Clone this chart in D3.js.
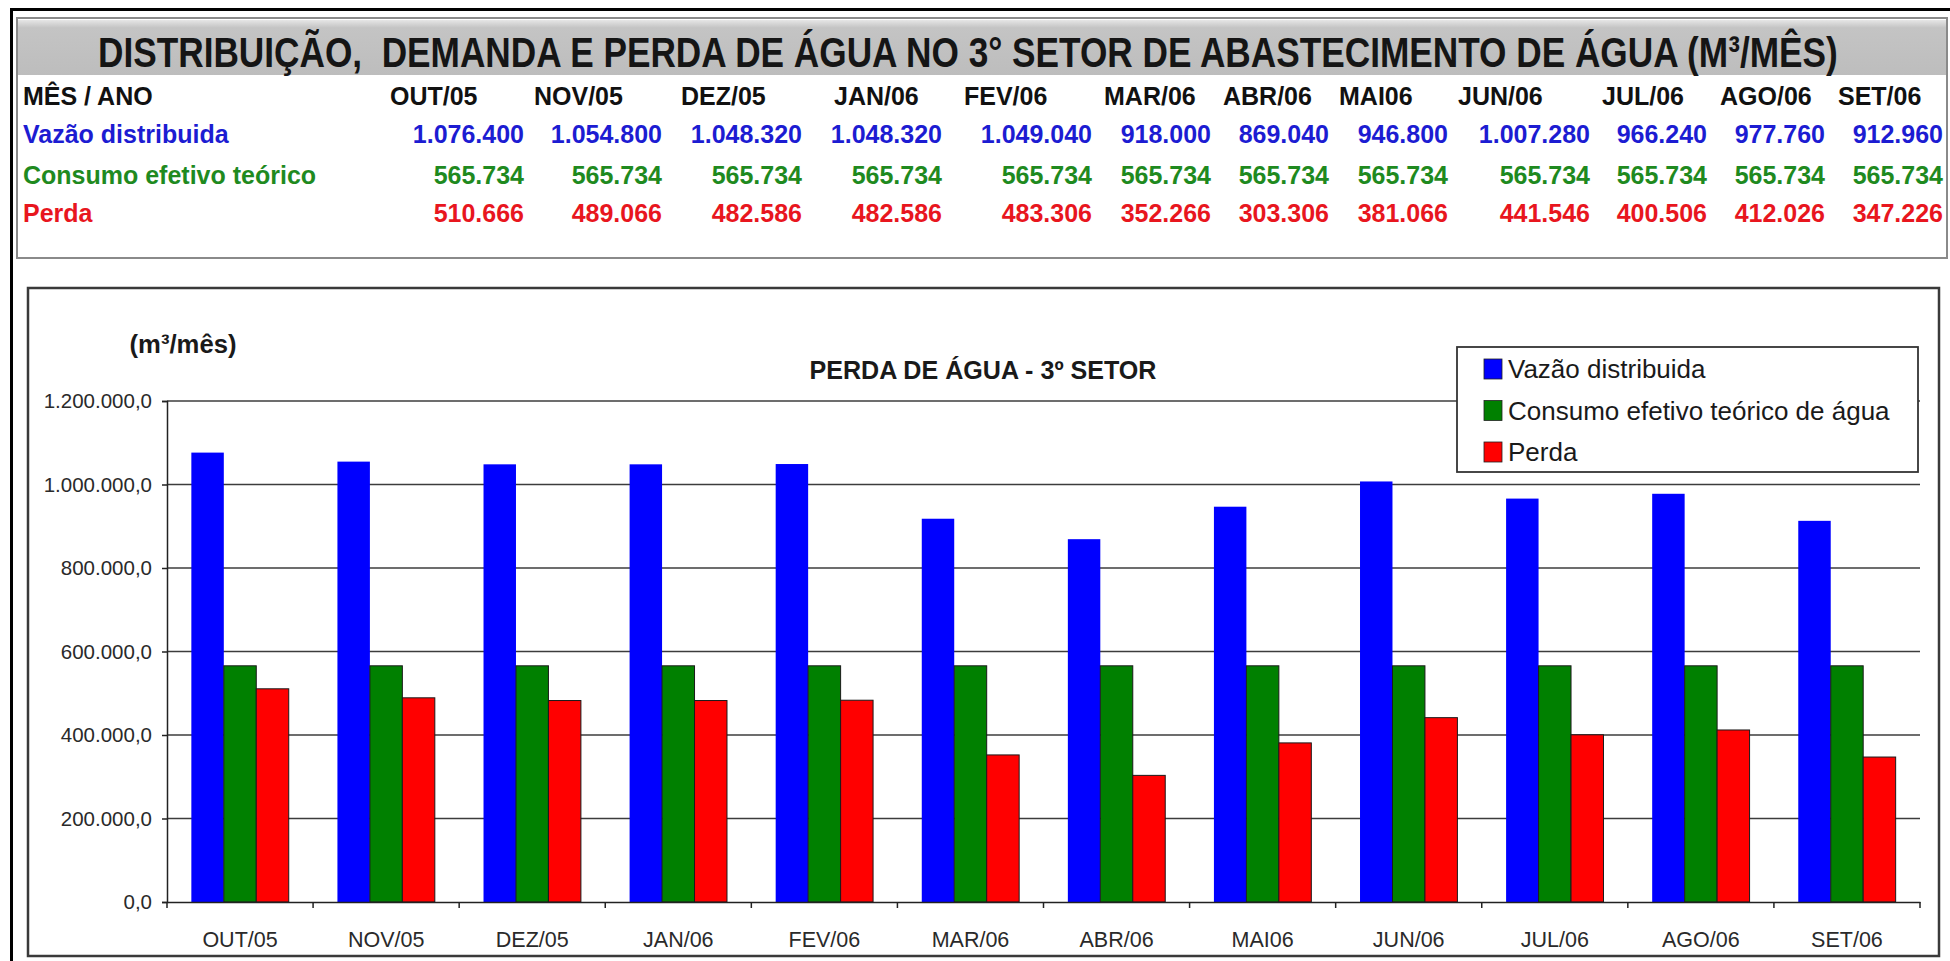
<!DOCTYPE html>
<html>
<head>
<meta charset="utf-8">
<script src="https://cdn.jsdelivr.net/npm/d3@7"></script>
<style>
  html, body { margin: 0; padding: 0; background: #fff; }
  svg { display: block; }
</style>
</head>
<body>
<svg id="chart" width="1950" height="961"></svg>
<script>
// ---- data ----
const months = ["OUT/05", "NOV/05", "DEZ/05", "JAN/06", "FEV/06", "MAR/06", "ABR/06", "MAI06", "JUN/06", "JUL/06", "AGO/06", "SET/06"];
const vazao   = [1076400, 1054800, 1048320, 1048320, 1049040, 918000, 869040, 946800, 1007280, 966240, 977760, 912960];
const consumo = [565734, 565734, 565734, 565734, 565734, 565734, 565734, 565734, 565734, 565734, 565734, 565734];
const perda   = [510666, 489066, 482586, 482586, 483306, 352266, 303306, 381066, 441546, 400506, 412026, 347226];
const legendNames = ["Vazão distribuida", "Consumo efetivo teórico de água", "Perda"];
const tableRowNames = ["Vazão distribuida", "Consumo efetivo teórico", "Perda"];
const yTickValues = [0, 200000, 400000, 600000, 800000, 1000000, 1200000];

// ---- styling / layout ----
const seriesColors = ["#0000ff", "#008000", "#ff0000"];
const tableTextColors = ["#1c1cd2", "#1f8a1f", "#e8161e"];
const tableColRight = [524, 662, 802, 942, 1092, 1211, 1329, 1448, 1590, 1707, 1825, 1943];
const tableHeadLeft = [390, 534, 681, 834, 964, 1104, 1223, 1339, 1458, 1602, 1720, 1838];

const ptBR = d3.formatLocale({decimal: ",", thousands: ".", grouping: [3], currency: ["R$", ""]});
const fmtInt = ptBR.format(",d");
const fmtTick = ptBR.format(",.1f");

const svg = d3.select("#chart");
const FONT = "'Liberation Sans', Arial, Helvetica, sans-serif";
const NARROW = "'Liberation Sans Narrow', 'Liberation Sans', Arial, sans-serif";

const defs = svg.append("defs");
const grad = defs.append("linearGradient").attr("id", "band").attr("x1", 0).attr("y1", 0).attr("x2", 0).attr("y2", 1);
grad.append("stop").attr("offset", "0%").attr("stop-color", "#e6e6e6");
grad.append("stop").attr("offset", "14%").attr("stop-color", "#c4c4c4");
grad.append("stop").attr("offset", "100%").attr("stop-color", "#bdbdbd");

// page frame
svg.append("rect").attr("x", 11.5).attr("y", 9.5).attr("width", 1960).attr("height", 980)
  .attr("fill", "none").attr("stroke", "#000").attr("stroke-width", 3);

// ---- data table ----
const table = svg.append("g");
table.append("rect").attr("x", 17).attr("y", 18).attr("width", 1930).attr("height", 240)
  .attr("fill", "#fff").attr("stroke", "#8a8a8a").attr("stroke-width", 2);
table.append("rect").attr("x", 18).attr("y", 20).attr("width", 1928).attr("height", 55)
  .attr("fill", "url(#band)");

// heading: condensed horizontally so it spans the band
const heading = table.append("text")
  .attr("x", 0).attr("y", 0)
  .style("white-space", "pre")
  .attr("font-family", NARROW).attr("font-size", 43).attr("font-weight", "bold").attr("fill", "#151515")
  .text("DISTRIBUIÇÃO,  DEMANDA E PERDA DE ÁGUA NO 3° SETOR DE ABASTECIMENTO DE ÁGUA (M³/MÊS)");
const headingWidth = 1740;
const naturalWidth = heading.node().getComputedTextLength();
heading.attr("transform", `translate(98,67) scale(${headingWidth / naturalWidth},1)`);

const rowBase = [105, 143, 184, 222];
table.append("text").attr("x", 23).attr("y", rowBase[0])
  .attr("font-family", FONT).attr("font-size", 25).attr("font-weight", "bold").attr("fill", "#111")
  .text("MÊS / ANO");
table.selectAll("text.head").data(months).join("text").attr("class", "head")
  .attr("x", (d, i) => tableHeadLeft[i]).attr("y", rowBase[0])
  .attr("font-family", FONT).attr("font-size", 25).attr("font-weight", "bold").attr("fill", "#111")
  .text(d => d);

const tableSeries = [vazao, consumo, perda];
tableSeries.forEach((vals, r) => {
  table.append("text").attr("x", 23).attr("y", rowBase[r + 1])
    .attr("font-family", FONT).attr("font-size", 25).attr("font-weight", "bold")
    .attr("fill", tableTextColors[r]).text(tableRowNames[r]);
  table.selectAll("text.v" + r).data(vals).join("text").attr("class", "v" + r)
    .attr("x", (d, i) => tableColRight[i]).attr("y", rowBase[r + 1])
    .attr("text-anchor", "end")
    .attr("font-family", FONT).attr("font-size", 25).attr("font-weight", "bold")
    .attr("fill", tableTextColors[r]).text(d => fmtInt(d));
});

// ---- chart box ----
svg.append("rect").attr("x", 28).attr("y", 288).attr("width", 1911).attr("height", 668)
  .attr("fill", "#fff").attr("stroke", "#3a3a3a").attr("stroke-width", 2.5);

const plot = {left: 167, right: 1920, top: 401, bottom: 902};
const x0 = d3.scaleBand().domain(months).range([plot.left, plot.right]).paddingInner(0).paddingOuter(0);
const x1 = d3.scaleBand().domain([0, 1, 2]).range([0, x0.bandwidth()]).paddingInner(0).paddingOuter(0.75);
const y = d3.scaleLinear().domain([0, 1200000]).range([plot.bottom, plot.top]);

// gridlines
svg.append("g").selectAll("line").data(yTickValues.filter(v => v > 0)).join("line")
  .attr("x1", plot.left).attr("x2", plot.right)
  .attr("y1", d => y(d)).attr("y2", d => y(d))
  .attr("stroke", "#3c3c3c").attr("stroke-width", 1.6);

// y axis
const yAxis = svg.append("g").attr("transform", `translate(${plot.left},0)`)
  .call(d3.axisLeft(y).tickValues(yTickValues).tickFormat(fmtTick).tickSize(5).tickPadding(10));
yAxis.select(".domain").attr("stroke", "#222").attr("stroke-width", 1.5);
yAxis.selectAll(".tick line").attr("stroke", "#222").attr("stroke-width", 1.5);
yAxis.selectAll(".tick text").attr("font-family", FONT).attr("font-size", 20.5).attr("fill", "#2a2a2a");

// bars
const seriesData = [vazao, consumo, perda];
const groups = svg.append("g").selectAll("g").data(months).join("g")
  .attr("transform", d => `translate(${x0(d)},0)`);
groups.selectAll("rect").data((m, i) => seriesData.map((s, k) => ({k, v: s[i]}))).join("rect")
  .attr("x", d => x1(d.k)).attr("width", x1.bandwidth())
  .attr("y", d => y(d.v)).attr("height", d => y(0) - y(d.v))
  .attr("fill", d => seriesColors[d.k])
  .attr("stroke", d => d.k === 0 ? "none" : "#1a1a1a").attr("stroke-width", 1);

// x axis
const xAxis = svg.append("g").attr("transform", `translate(0,${plot.bottom})`)
  .call(d3.axisBottom(x0).tickSize(0).tickPadding(30));
xAxis.select(".domain").attr("stroke", "#222").attr("stroke-width", 1.5);
xAxis.selectAll(".tick text").attr("font-family", FONT).attr("font-size", 21.5).attr("fill", "#2a2a2a");
// category separators
svg.append("g").selectAll("line").data(months.map(m => x0(m)).concat([plot.right])).join("line")
  .attr("x1", d => d).attr("x2", d => d)
  .attr("y1", plot.bottom).attr("y2", plot.bottom + 6)
  .attr("stroke", "#222").attr("stroke-width", 1.5);

// titles
svg.append("text").attr("x", 183).attr("y", 353).attr("text-anchor", "middle")
  .attr("textLength", 107).attr("lengthAdjust", "spacingAndGlyphs")
  .attr("font-family", FONT).attr("font-size", 26).attr("font-weight", "bold").attr("fill", "#1a1a1a")
  .text("(m³/mês)");
svg.append("text").attr("x", 983).attr("y", 379).attr("text-anchor", "middle")
  .attr("textLength", 347).attr("lengthAdjust", "spacingAndGlyphs")
  .attr("font-family", FONT).attr("font-size", 25).attr("font-weight", "bold").attr("fill", "#1a1a1a")
  .text("PERDA DE ÁGUA - 3º SETOR");

// legend
const legend = svg.append("g");
legend.append("rect").attr("x", 1457).attr("y", 347).attr("width", 461).attr("height", 125)
  .attr("fill", "#fff").attr("stroke", "#333").attr("stroke-width", 1.8);
const legRows = legend.selectAll("g").data(legendNames).join("g")
  .attr("transform", (d, i) => `translate(1484,${359 + i * 41.5})`);
legRows.append("rect").attr("width", 18).attr("height", 20)
  .attr("fill", (d, i) => seriesColors[i]).attr("stroke", "#222").attr("stroke-width", 0.8);
legRows.append("text").attr("x", 24).attr("y", 19)
  .attr("font-family", FONT).attr("font-size", 26).attr("fill", "#1a1a1a")
  .text(d => d);
</script>
</body>
</html>
